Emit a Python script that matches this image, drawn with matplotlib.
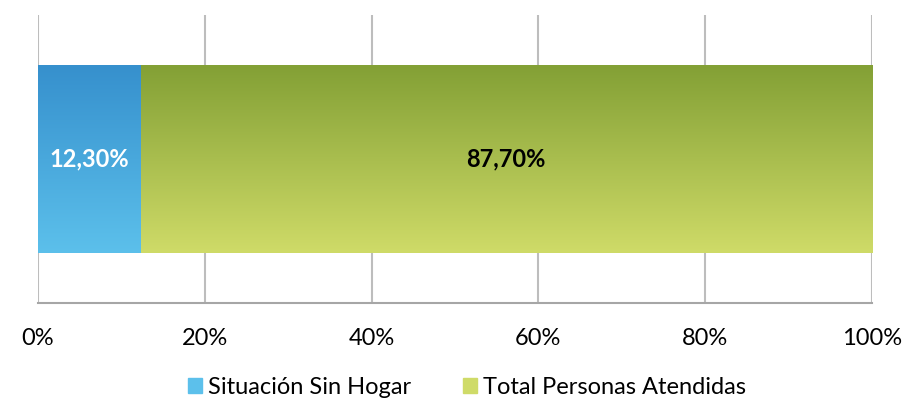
import numpy as np
import matplotlib.pyplot as plt
from matplotlib.colors import LinearSegmentedColormap
from matplotlib.patches import Patch

series = ["Situación Sin Hogar", "Total Personas Atendidas"]
values = [12.30, 87.70]
labels = ["12,30%", "87,70%"]
label_colors = ["white", "black"]
# top / bottom colours of each gradient
grad = [("#3690cd", "#5cc0eb"), ("#83a035", "#cfdb68")]

plt.rcParams['font.family'] = ['Lato', 'DejaVu Sans']

fig = plt.figure(figsize=(9.03, 4.01), dpi=100)
ax = fig.add_axes([38/903, 1-303/401, 834/903, 288/401])

left = 0
for v, lab, lc, (c_top, c_bot) in zip(values, labels, label_colors, grad):
    bar = ax.barh(0, v, left=left, height=0.65, color=c_bot, zorder=2)[0]
    cmap = LinearSegmentedColormap.from_list("g", [c_bot, c_top])
    img = ax.imshow(np.linspace(0, 1, 256).reshape(-1, 1), cmap=cmap, aspect="auto",
                    extent=[left, left + v, -0.325, 0.325], origin="lower", zorder=3)
    img.set_clip_path(bar)
    ax.text(left + v / 2, 0, lab, ha="center", va="center", color=lc,
            fontsize=17, fontweight="bold", zorder=4)
    left += v

ax.set_xlim(0, 100)
ax.set_ylim(-0.5, 0.5)
ax.set_xticks(np.arange(0, 101, 20))
ax.set_xticklabels([f"{t}%" for t in range(0, 101, 20)], fontsize=17)
ax.set_yticks([])
ax.tick_params(axis="x", length=0, pad=18)
ax.grid(axis="x", color="#bdbdbd", linewidth=1.5, zorder=0)
for s in ["top", "right", "left"]:
    ax.spines[s].set_visible(False)
ax.spines["bottom"].set_color("#a6a6a6")
ax.spines["bottom"].set_linewidth(1.5)

handles = [Patch(color=grad[0][1]), Patch(color=grad[1][1])]
fig.legend(handles, series, loc="center", bbox_to_anchor=(467/903, 1-387/401),
           ncol=2, frameon=False, fontsize=17, handlelength=0.6, handleheight=0.6,
           handletextpad=0.25, columnspacing=2.2, borderpad=0)

fig.savefig("out.png", dpi=100)
